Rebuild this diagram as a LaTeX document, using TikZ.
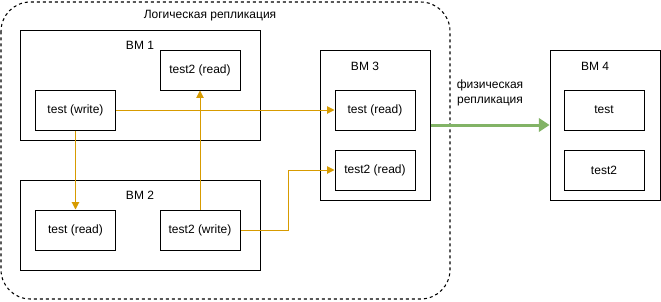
\documentclass[tikz,border=0pt]{standalone}
\usepackage{fontspec}
\setmainfont{Liberation Sans}
\usetikzlibrary{positioning, arrows.meta}

\definecolor{replyellow}{HTML}{D79B00}
\definecolor{physgreen}{HTML}{82B366}

\begin{document}
\begin{tikzpicture}[
    x=0.75pt, y=-0.75pt,
    font=\fontsize{9}{11.25}\selectfont,
    table/.style={
        draw,
        line width=0.75pt,
        minimum width=60pt,
        minimum height=30pt,
        inner sep=0pt
    },
    vmbox/.style={
        draw,
        line width=0.75pt,
        inner sep=0pt
    },
    repl/.style={
        draw=replyellow,
        line width=0.75pt,
        -{Triangle[width=5.5pt, length=5.5pt]}
    }
]

\useasboundingbox (0, 0) rectangle (661, 301);

% Logical replication area
\draw[line width=0.8pt, dash pattern=on 2.25pt off 2.25pt, rounded corners=22pt]
    (1, 2) rectangle (450, 299);
\node (logic) at (210, 16) {Логическая репликация};

% VM 1
\node[vmbox, minimum width=180pt, minimum height=82.5pt] (vm1) at (140, 85) {};
\node (vm1label) at (140, 45) {ВМ 1};
\node[table] (w1) at (75.5, 110) {test (write)};
\node[table] (r1) at (200, 70) {test2 (read)};

% VM 2
\node[vmbox, minimum width=180pt, minimum height=67.5pt] (vm2) at (140, 225) {};
\node (vm2label) at (140, 195) {ВМ 2};
\node[table] (r2) at (75.5, 230) {test (read)};
\node[table] (w2) at (200, 230) {test2 (write)};

% VM 3
\node[vmbox, minimum width=82.5pt, minimum height=112.5pt] (vm3) at (375, 125) {};
\node (vm3label) at (365, 66) {ВМ 3};
\node[table] (r3) at (375, 110) {test (read)};
\node[table] (r4) at (375, 170) {test2 (read)};

% VM 4
\node[vmbox, minimum width=82.5pt, minimum height=112.5pt] (vm4) at (605, 125) {};
\node (vm4label) at (595, 66) {ВМ 4};
\node[table] (p1) at (604, 110) {test};
\node[table] (p2) at (604, 170) {test2};

% Logical replication links
\draw[repl] (w1.east) -- (r3.west);
\draw[repl] (w1.south) -- (r2.north);
\draw[repl] (w2.north) -- (r1.south);
\draw[repl] (w2.east) -- ++(48, 0) |- (r4.west);

% Physical replication
\draw[draw=physgreen, line width=2.25pt, -{Triangle[width=10pt, length=8pt]}]
    (vm3.east) -- (vm4.west)
    node[midway, above=10pt, align=center, text=black] (phys) {физическая\\репликация};

\end{tikzpicture}
\end{document}
